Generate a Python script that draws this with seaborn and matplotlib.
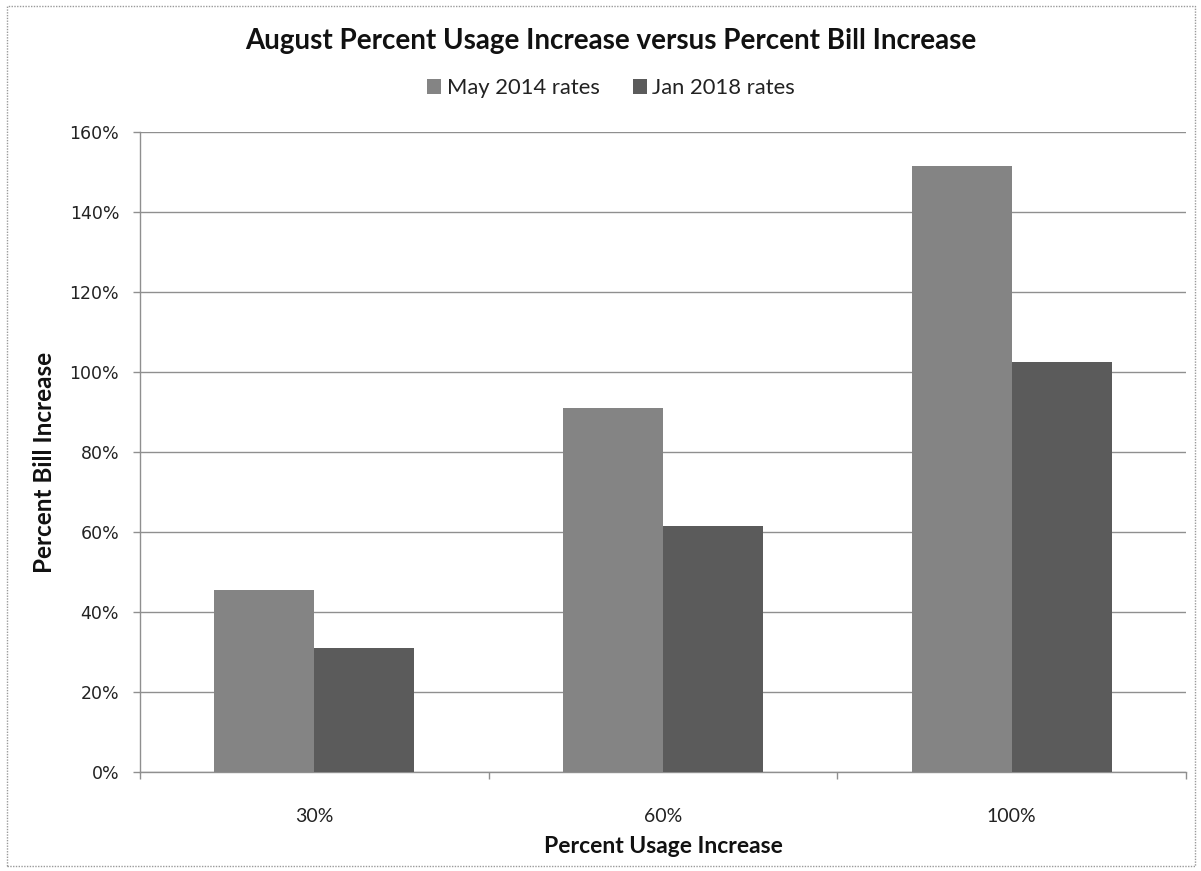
import matplotlib
matplotlib.use("Agg")
import matplotlib.pyplot as plt
from matplotlib.patches import Patch, Rectangle
import pandas as pd
import seaborn as sns

# Chart data
usage_increase = ["30%", "60%", "100%"]
series_names = ["May 2014 rates", "Jan 2018 rates"]
may_2014 = [0.455, 0.91, 1.515]
jan_2018 = [0.31, 0.615, 1.026]
y_ticks = [0.0, 0.2, 0.4, 0.6, 0.8, 1.0, 1.2, 1.4, 1.6]

bar_colors = ["#848484", "#5b5b5b"]
grid_color = "#8f8f8f"

df = pd.DataFrame({
    "usage": usage_increase * 2,
    "series": [series_names[0]] * 3 + [series_names[1]] * 3,
    "bill": may_2014 + jan_2018,
})

sns.set_theme(style="white")
plt.rcParams["font.family"] = ["Lato", "DejaVu Sans"]

fig = plt.figure(figsize=(12.01, 8.71), dpi=100)
ax = fig.add_axes([140 / 1201, 1 - 772 / 871, (1186 - 140) / 1201, (772 - 132) / 871])

sns.barplot(data=df, x="usage", y="bill", hue="series", order=usage_increase,
            hue_order=series_names, palette=bar_colors, width=0.573, gap=0,
            saturation=1, linewidth=0, ax=ax, legend=False, zorder=3)

ax.set_ylim(0, 1.6)
ax.set_xlim(-0.5, 2.5)
ax.set_yticks(y_ticks, labels=[f"{round(v * 100)}%" for v in y_ticks],
              fontfamily="DejaVu Sans", fontsize=12.5, color="#222222")
ax.grid(axis="y", color=grid_color, linewidth=1, zorder=0)
ax.grid(axis="x", visible=False)
ax.set_axisbelow(True)

for side in ["top", "right"]:
    ax.spines[side].set_visible(False)
for side in ["left", "bottom"]:
    ax.spines[side].set_color(grid_color)
    ax.spines[side].set_linewidth(1)

ax.tick_params(axis="y", which="major", left=True, length=5, width=1,
               color=grid_color, pad=10)

ax.set_xticks([-0.5, 0.5, 1.5, 2.5], minor=True)
ax.tick_params(axis="x", which="minor", bottom=True, length=5, width=1, color=grid_color)
ax.tick_params(axis="x", which="major", bottom=False, length=0, pad=26,
               labelsize=14, labelcolor="#222222")

ax.set_xlabel("Percent Usage Increase", fontsize=16.5, fontweight="bold",
              labelpad=8, color="#111111")
ax.set_ylabel("Percent Bill Increase", fontsize=17.5, fontweight="bold",
              labelpad=8, color="#111111")
ax.yaxis.set_label_coords(-84 / 1046, 0.483)

fig.text(611 / 1201, 1 - 41 / 871, "August Percent Usage Increase versus Percent Bill Increase",
         ha="center", va="center", fontsize=20, fontweight="bold", color="#111111")

handles = [Patch(facecolor=c, edgecolor="none", label=n) for c, n in zip(bar_colors, series_names)]
fig.legend(handles=handles, loc="center", bbox_to_anchor=(611 / 1201, 1 - 88 / 871),
           ncol=2, frameon=False, fontsize=15.8, handlelength=0.65, handleheight=0.65,
           handletextpad=0.25, columnspacing=1.5, labelcolor="#222222")

# Dotted chart-area border
fig.patches.append(Rectangle((7 / 1201, 1 - 866 / 871), (1195 - 7) / 1201, (866 - 6) / 871,
                             transform=fig.transFigure, fill=False, edgecolor="#9a9a9a",
                             linewidth=1, linestyle=(0, (1, 1))))

fig.savefig("out.png", dpi=100)
